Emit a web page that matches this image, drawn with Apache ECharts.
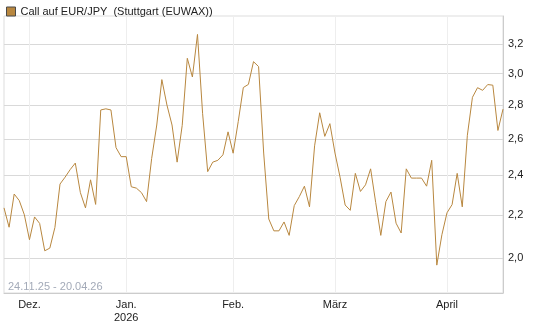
<!DOCTYPE html>
<html>
<head>
  <meta charset="UTF-8">
  <title>Call auf EUR/JPY</title>
  <script src="https://cdn.jsdelivr.net/npm/echarts@6/dist/echarts.min.js"></script>
  <style>
    html, body { margin: 0; padding: 0; background: #fff; }
    #main { width: 545px; height: 327px; }
  </style>
</head>
<body>
  <div id="main"></div>
  <script type="text/javascript">
    // trading days 24.11.25 - 20.04.26
    var dates = [
      '24.11.25', '25.11.25', '26.11.25', '27.11.25', '28.11.25',
      '01.12.25', '02.12.25', '03.12.25', '04.12.25', '05.12.25',
      '08.12.25', '09.12.25', '10.12.25', '11.12.25', '12.12.25',
      '15.12.25', '16.12.25', '17.12.25', '18.12.25', '19.12.25',
      '22.12.25', '23.12.25', '29.12.25', '30.12.25',
      '02.01.26', '05.01.26', '06.01.26', '07.01.26', '08.01.26', '09.01.26',
      '12.01.26', '13.01.26', '14.01.26', '15.01.26', '16.01.26',
      '19.01.26', '20.01.26', '21.01.26', '22.01.26', '23.01.26',
      '26.01.26', '27.01.26', '28.01.26', '29.01.26', '30.01.26',
      '02.02.26', '03.02.26', '04.02.26', '05.02.26', '06.02.26',
      '09.02.26', '10.02.26', '11.02.26', '12.02.26', '13.02.26',
      '16.02.26', '17.02.26', '18.02.26', '19.02.26', '20.02.26',
      '23.02.26', '24.02.26', '25.02.26', '26.02.26', '27.02.26',
      '02.03.26', '03.03.26', '04.03.26', '05.03.26', '06.03.26',
      '09.03.26', '10.03.26', '11.03.26', '12.03.26', '13.03.26',
      '16.03.26', '17.03.26', '18.03.26', '19.03.26', '20.03.26',
      '23.03.26', '24.03.26', '25.03.26', '26.03.26', '27.03.26',
      '30.03.26', '31.03.26',
      '01.04.26', '02.04.26', '07.04.26', '08.04.26', '09.04.26', '10.04.26',
      '13.04.26', '14.04.26', '15.04.26', '16.04.26', '17.04.26', '20.04.26'
    ];

    var prices = [
      2.234, 2.141, 2.303, 2.27, 2.20, 2.083, 2.19, 2.159, 2.033, 2.045,
      2.14, 2.354, 2.39, 2.43, 2.465, 2.31, 2.234, 2.376, 2.251, 2.77,
      2.777, 2.77, 2.55, 2.50, 2.50, 2.34, 2.333, 2.31, 2.265, 2.49,
      2.68, 2.961, 2.80, 2.68, 2.47, 2.678, 3.103, 2.978, 3.27, 2.75,
      2.419, 2.47, 2.48, 2.51, 2.64, 2.519, 2.70, 2.91, 2.93, 3.08,
      3.047, 2.52, 2.18, 2.124, 2.124, 2.166, 2.103, 2.245, 2.29, 2.343,
      2.239, 2.56, 2.753, 2.614, 2.688, 2.52, 2.39, 2.248, 2.222, 2.41,
      2.316, 2.35, 2.434, 2.26, 2.103, 2.265, 2.313, 2.16, 2.114, 2.434,
      2.385, 2.385, 2.385, 2.343, 2.48, 1.97, 2.106, 2.21, 2.25, 2.41,
      2.239, 2.62, 2.848, 2.909, 2.892, 2.929, 2.925, 2.648, 2.775
    ];

    var monthDates = ['01.12.25', '02.01.26', '02.02.26', '02.03.26', '01.04.26'];
    var monthLabels = ['Dez.', 'Jan.\n2026', 'Feb.', 'März', 'April'];
    var yTicks = [2.0, 2.2, 2.4, 2.6, 2.8, 3.0, 3.2];

    var seriesName = 'Call auf EUR/JPY  (Stuttgart (EUWAX))';
    var lineColor = '#b8873f';

    function isMonthStart(index, value) {
      return monthDates.indexOf(dates[index]) >= 0;
    }

    var myChart = echarts.init(document.getElementById('main'));

    var option = {
      animation: false,
      textStyle: { fontFamily: 'Liberation Sans, Arial, sans-serif' },
      legend: {
        left: 1,
        top: 1,
        icon: 'rect',
        itemWidth: 9,
        itemHeight: 9,
        itemStyle: { color: lineColor, borderColor: '#4a4a4a', borderWidth: 1 },
        textStyle: { fontSize: 11, color: '#222' },
        data: [seriesName]
      },
      grid: {
        left: 4,
        right: 42,
        top: 16,
        bottom: 34,
        show: true,
        borderColor: '#dddddd',
        borderWidth: 1
      },
      graphic: [{
        type: 'text',
        left: 8,
        top: 281,
        style: {
          text: dates[0] + ' - ' + dates[dates.length - 1],
          fill: '#a3aab8',
          font: '11px Liberation Sans, Arial, sans-serif'
        }
      }],
      xAxis: {
        type: 'category',
        boundaryGap: false,
        data: dates,
        axisLine: { lineStyle: { color: '#cccccc' } },
        axisTick: { show: false },
        axisLabel: {
          interval: isMonthStart,
          color: '#222',
          fontSize: 11,
          margin: 5,
          lineHeight: 13,
          formatter: function (value) {
            var k = monthDates.indexOf(value);
            return k >= 0 ? monthLabels[k] : '';
          }
        },
        splitLine: {
          show: true,
          interval: isMonthStart,
          lineStyle: { color: '#eeeeee' }
        }
      },
      yAxis: {
        type: 'log',
        position: 'right',
        min: 1.853,
        max: 3.405,
        axisLine: { show: true, lineStyle: { color: '#cccccc' } },
        axisTick: { show: false, customValues: yTicks },
        axisLabel: {
          customValues: yTicks,
          color: '#222',
          fontSize: 11,
          margin: 5,
          formatter: function (v) { return v.toFixed(1).replace('.', ','); }
        },
        splitLine: { show: true, lineStyle: { color: '#d9d9d9' } }
      },
      series: [{
        name: seriesName,
        type: 'line',
        data: prices,
        symbol: 'none',
        lineStyle: { color: lineColor, width: 1 },
        itemStyle: { color: lineColor }
      }]
    };

    myChart.setOption(option);
  </script>
</body>
</html>
